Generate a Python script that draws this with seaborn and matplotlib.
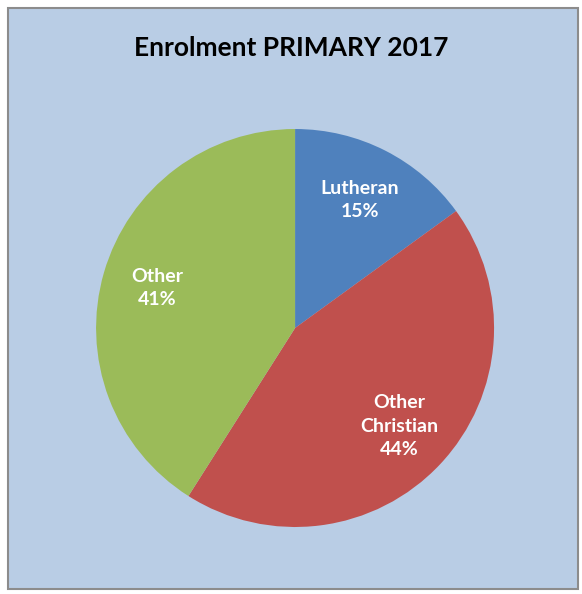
import matplotlib
matplotlib.use("Agg")
import matplotlib.pyplot as plt
import seaborn as sns
from matplotlib.patches import Rectangle

# data
labels = ["Lutheran", "Other\nChristian", "Other"]
shares = [15, 44, 41]
colors = ["#4F81BD", "#C0504D", "#9BBB59"]
title = "Enrolment PRIMARY 2017"

sns.set_style("white")
plt.rcParams['font.family'] = ['Lato', 'DejaVu Sans']

fig = plt.figure(figsize=(5.82, 5.94), dpi=100)
fig.patch.set_facecolor("white")
# chart area background with grey border
bg = Rectangle((8/582, 1 - 589/594), 570/582, 581/594, transform=fig.transFigure,
               facecolor="#B9CDE5", edgecolor="#8C8C8C", linewidth=1.5, zorder=-10)
fig.patches.append(bg)

ax = fig.add_axes([0.165, 0.1128, 0.684, 0.670])
ax.set_zorder(1)
ax.patch.set_visible(False)
names = iter(labels)
wedges, texts, autotexts = ax.pie(shares, colors=colors, startangle=90, counterclock=False,
                                  autopct=lambda p: f"{next(names)}\n{p:.0f}%",
                                  pctdistance=0.72, labeldistance=None,
                                  wedgeprops=dict(linewidth=0),
                                  textprops=dict(color="white", fontsize=14, fontweight="bold",
                                                 linespacing=1.45))
ax.set_xlim(-1, 1)
ax.set_ylim(-1, 1)
ax.set_aspect("equal")
ax.axis("off")

fig.text(0.5, 1 - 48/594, title, ha="center", va="center", fontsize=19,
         fontweight="bold", color="black")

fig.savefig("out.png", dpi=100)
